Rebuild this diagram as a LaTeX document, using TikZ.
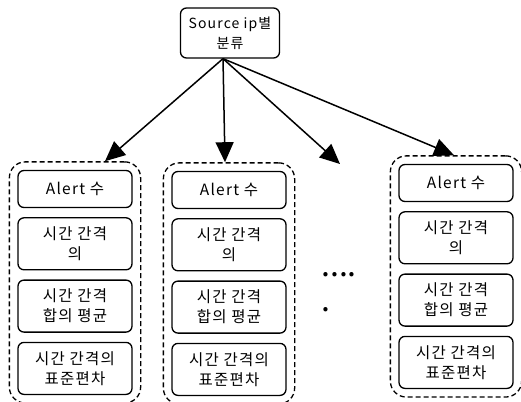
\documentclass[tikz,border=0pt]{standalone}
\usepackage{fontspec}
\newfontfamily\kr[LetterSpace=8]{Noto Sans CJK KR}
\newfontfamily\krdot{Noto Sans CJK KR}
\usetikzlibrary{
	arrows.meta,
	positioning,
	fit,
	calc
}

\begin{document}
\begin{tikzpicture}[x=1pt, y=-1pt,
				box/.style={
					rectangle, draw, rounded corners=6pt, line width=1.3pt,
					minimum width=114pt, minimum height=52pt, inner sep=2pt,
					align=center, font=\kr\fontsize{15.5}{20}\selectfont
				},
				alertbox/.style={
					box, minimum height=37pt
				},
				group/.style={
					rectangle, draw, dash pattern=on 5pt off 3pt, line width=1.3pt,
					rounded corners=16pt, inner xsep=8pt, inner ysep=8pt
				},
				arrow/.style={-{Triangle[length=20pt,width=18pt]}, line width=1.5pt},
				node distance=9pt
				]
				\useasboundingbox (0,0) rectangle (521,401);
				
				\node[box, minimum width=99pt, minimum height=50pt, font=\kr\fontsize{14}{20}\selectfont] (src) at (230,33) {Source ip별\\분류};
				
				%first group
				\node[alertbox] (alert1) at (75,189) {Alert 수};
				\node[box, below=of alert1] (gap1) {시간 간격\\의};
				\node[box, below=of gap1] (mean1) {시간 간격\\합의 평균};
				\node[box, below=of mean1] (std1) {시간 간격의\\표준편차};
				\node[group, fit=(alert1)(std1)] (grp1) {};
				
				%2. group
				\node[alertbox] (alert2) at (229,190) {Alert 수};
				\node[box, below=of alert2] (gap2) {시간 간격\\의};
				\node[box, below=of gap2] (mean2) {시간 간격\\합의 평균};
				\node[box, below=of mean2] (std2) {시간 간격의\\표준편차};
				\node[group, fit=(alert2)(std2)] (grp2) {};
				
				%3. group
				\node[alertbox] (alert3) at (456,183) {Alert 수};
				\node[box, below=of alert3] (gap3) {시간 간격\\의};
				\node[box, below=of gap3] (mean3) {시간 간격\\합의 평균};
				\node[box, below=of mean3] (std3) {시간 간격의\\표준편차};
				\node[group, fit=(alert3)(std3)] (grp3) {};
				
				%dots
				\node[font=\krdot\fontsize{32}{35}\selectfont, align=left] (dots) at (339,292) {....\\.};
				\coordinate (more) at (340,164);
				
				\draw[arrow] ([xshift=-7pt]src.south) -- ([xshift=30pt]grp1.north);
				\draw[arrow] ([xshift=-7pt]src.south) -- ([xshift=-4pt]grp2.north);
				\draw[arrow] ([xshift=-7pt]src.south) -- (more);
				\draw[arrow] ([xshift=-7pt]src.south) -- ([xshift=-2pt]grp3.north);
			\end{tikzpicture}
\end{document}
